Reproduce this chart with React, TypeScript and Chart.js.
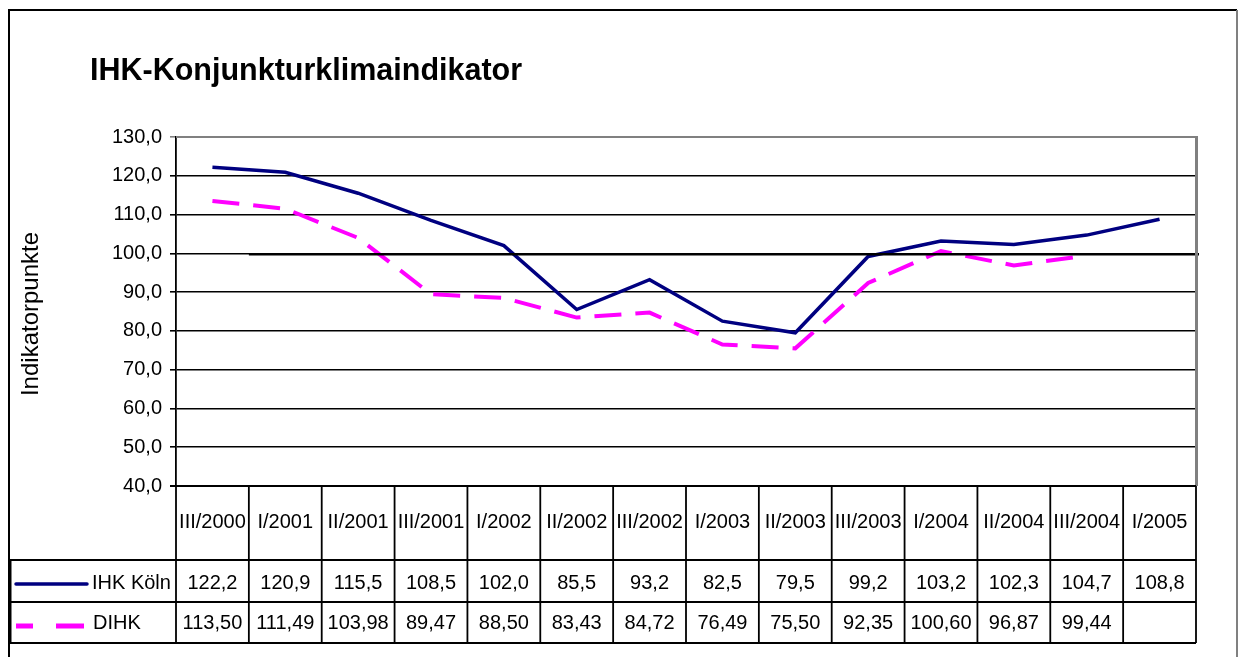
import React, { useEffect, useRef } from 'react';
import { Chart, registerables } from 'chart.js';

Chart.register(...registerables);

const categories = [
  'III/2000', 'I/2001', 'II/2001', 'III/2001', 'I/2002', 'II/2002', 'III/2002',
  'I/2003', 'II/2003', 'III/2003', 'I/2004', 'II/2004', 'III/2004', 'I/2005',
];
const ihkKoeln = [122.2, 120.9, 115.5, 108.5, 102.0, 85.5, 93.2, 82.5, 79.5, 99.2, 103.2, 102.3, 104.7, 108.8];
const dihk: (number | null)[] = [113.5, 111.49, 103.98, 89.47, 88.5, 83.43, 84.72, 76.49, 75.5, 92.35, 100.6, 96.87, 99.44, null];
const seriesNames = ['IHK Köln', 'DIHK'];
const referenceValue = 100;
const yMin = 40;
const yMax = 130;
const yStep = 10;
const titleText = 'IHK-Konjunkturklimaindikator';
const yTitleText = 'Indikatorpunkte';

const FONT = '"Liberation Sans", Arial, Helvetica, sans-serif';
const NAVY = '#000080';
const MAGENTA = '#FF00FF';

const fmt = (v: number | null, d: number) => (v === null ? '' : v.toFixed(d).replace('.', ','));

const decorPlugin = {
  id: 'excelDecor',
  afterDatasetsDraw(chart: any) {
    const ctx = chart.ctx as CanvasRenderingContext2D;
    const { left, right, top, bottom } = chart.chartArea;
    const xs = chart.scales.x;
    const ys = chart.scales.y;
    ctx.save();
    // reference line at 100
    const yRef = ys.getPixelForValue(referenceValue) + 1;
    const xStart = (xs.getPixelForValue(0) + xs.getPixelForValue(1)) / 2;
    ctx.strokeStyle = '#000';
    ctx.lineWidth = 2.5;
    ctx.beginPath();
    ctx.moveTo(xStart, yRef);
    ctx.lineTo(right + 3, yRef);
    ctx.stroke();
    // plot area border (gray top + right)
    ctx.strokeStyle = '#808080';
    ctx.lineWidth = 2;
    ctx.beginPath();
    ctx.moveTo(left, top);
    ctx.lineTo(right, top);
    ctx.stroke();
    ctx.lineWidth = 3;
    ctx.beginPath();
    ctx.moveTo(right + 0.5, top - 1);
    ctx.lineTo(right + 0.5, bottom);
    ctx.stroke();
    ctx.restore();
  },
  afterDraw(chart: any) {
    const ctx = chart.ctx as CanvasRenderingContext2D;
    const { left, right, bottom } = chart.chartArea;
    const xs = chart.scales.x;
    const n = categories.length;
    const colW = (right - left) / n;
    const headerBottom = 560;
    const row1Bottom = 602;
    const row2Bottom = 643;
    const frameLeft = 9;
    ctx.save();

    // outer chart frame
    ctx.strokeStyle = '#000';
    ctx.lineWidth = 2;
    ctx.beginPath();
    ctx.moveTo(frameLeft, 700);
    ctx.lineTo(frameLeft, 10);
    ctx.lineTo(1237, 10);
    ctx.stroke();
    ctx.strokeStyle = '#808080';
    ctx.lineWidth = 2;
    ctx.beginPath();
    ctx.moveTo(1237, 10);
    ctx.lineTo(1237, 700);
    ctx.stroke();

    // title
    ctx.fillStyle = '#000';
    ctx.font = `bold 30.5px ${FONT}`;
    ctx.textAlign = 'left';
    ctx.textBaseline = 'alphabetic';
    ctx.fillText(titleText, 90, 80);

    // y axis title
    ctx.save();
    ctx.translate(38, 314);
    ctx.rotate(-Math.PI / 2);
    ctx.font = `24px ${FONT}`;
    ctx.textAlign = 'center';
    ctx.textBaseline = 'alphabetic';
    ctx.fillText(yTitleText, 0, 0);
    ctx.restore();

    // data table grid
    ctx.strokeStyle = '#000';
    ctx.lineWidth = 1.8;
    ctx.beginPath();
    ctx.moveTo(left - 6, bottom);
    ctx.lineTo(right, bottom);
    for (const yy of [headerBottom, row1Bottom, row2Bottom]) {
      ctx.moveTo(frameLeft, yy);
      ctx.lineTo(right, yy);
    }
    for (let i = 0; i <= n; i++) {
      const xx = left + i * colW;
      ctx.moveTo(xx, bottom);
      ctx.lineTo(xx, row2Bottom);
    }
    ctx.stroke();
    ctx.lineWidth = 3;
    ctx.beginPath();
    ctx.moveTo(frameLeft + 1, headerBottom);
    ctx.lineTo(frameLeft + 1, row2Bottom);
    ctx.stroke();

    // table texts
    ctx.fillStyle = '#000';
    ctx.font = `20px ${FONT}`;
    ctx.textAlign = 'center';
    ctx.textBaseline = 'middle';
    const headerY = (bottom + headerBottom) / 2 - 1;
    const r1Y = (headerBottom + row1Bottom) / 2 + 2;
    const r2Y = (row1Bottom + row2Bottom) / 2 + 1;
    categories.forEach((c, i) => {
      const cx = xs.getPixelForValue(i);
      ctx.fillText(c, cx, headerY);
      ctx.fillText(fmt(ihkKoeln[i], 1), cx, r1Y);
      ctx.fillText(fmt(dihk[i], 2), cx, r2Y);
    });

    // legend keys
    ctx.textAlign = 'left';
    ctx.fillText(seriesNames[0], 92, r1Y);
    ctx.fillText(seriesNames[1], 93, r2Y);
    ctx.strokeStyle = NAVY;
    ctx.lineWidth = 3.5;
    ctx.lineCap = 'round';
    ctx.beginPath();
    ctx.moveTo(16, 584);
    ctx.lineTo(87, 584);
    ctx.stroke();
    ctx.strokeStyle = MAGENTA;
    ctx.lineWidth = 5;
    ctx.lineCap = 'butt';
    ctx.beginPath();
    ctx.moveTo(16, 626);
    ctx.lineTo(33, 626);
    ctx.moveTo(56, 626);
    ctx.lineTo(84, 626);
    ctx.stroke();

    ctx.restore();
  },
};

export default function App() {
  const canvasRef = useRef<HTMLCanvasElement | null>(null);

  useEffect(() => {
    if (!canvasRef.current) return;
    const chart = new Chart(canvasRef.current, {
      type: 'line',
      data: {
        labels: categories,
        datasets: [
          {
            label: seriesNames[0],
            data: ihkKoeln,
            borderColor: NAVY,
            backgroundColor: NAVY,
            borderWidth: 3.5,
            pointRadius: 0,
            tension: 0,
            fill: false,
          },
          {
            label: seriesNames[1],
            data: dihk,
            borderColor: MAGENTA,
            backgroundColor: MAGENTA,
            borderWidth: 4,
            borderDash: [27, 14],
            pointRadius: 0,
            tension: 0,
            fill: false,
            spanGaps: false,
          },
        ],
      },
      options: {
        animation: false,
        responsive: false,
        devicePixelRatio: 1,
        layout: { padding: { left: 0, top: 137, right: 42, bottom: 171 } },
        plugins: {
          legend: { display: false },
          title: { display: false },
          tooltip: { enabled: false },
        },
        scales: {
          x: {
            type: 'category',
            offset: true,
            display: false,
          },
          y: {
            min: yMin,
            max: yMax,
            afterFit: (scale: any) => {
              scale.width = 176;
            },
            ticks: {
              stepSize: yStep,
              color: '#000',
              font: { family: FONT, size: 20 },
              padding: 8,
              callback: (v: any) => fmt(Number(v), 1),
            },
            grid: {
              color: (c: any) => (c.tick && c.tick.value === yMax ? '#808080' : '#000'),
              lineWidth: 1.6,
              tickLength: 6,
              drawTicks: true,
            },
            border: { display: true, color: '#000', width: 1.8 },
          },
        },
      },
      plugins: [decorPlugin],
    });
    return () => chart.destroy();
  }, []);

  return (
    <div style={{ position: 'fixed', left: 0, top: 0, width: 1238, height: 657, background: '#fff' }}>
      <canvas ref={canvasRef} width={1238} height={657} style={{ display: 'block', width: 1238, height: 657 }} />
    </div>
  );
}
